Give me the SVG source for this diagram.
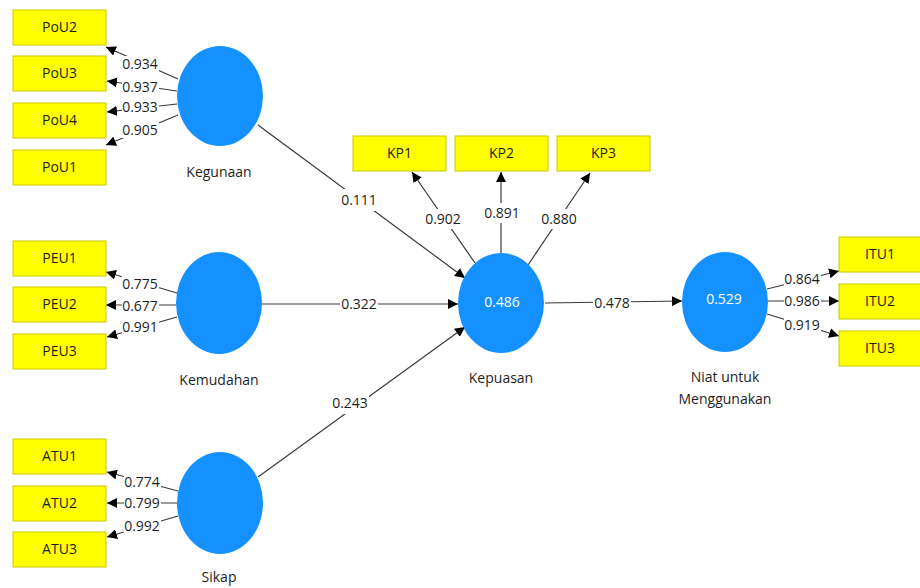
<svg xmlns="http://www.w3.org/2000/svg" width="920" height="588" viewBox="0 0 920 588">
<style>
.box{fill:#ffff00;stroke:#c9c900;stroke-width:1}
.lv{fill:#1591ff}
.t{font-family:"Open Sans","Noto Sans",sans-serif;font-size:14px;fill:#1e1e1e;text-anchor:middle}
.v{font-family:"Open Sans","Noto Sans",sans-serif;font-size:14px;fill:#ffffff;text-anchor:middle}
.ln{stroke:#3a3a3a;stroke-width:1.2;fill:none;marker-end:url(#ah)}
.bg{fill:#ffffff}
</style>
<defs>
<marker id="ah" markerUnits="userSpaceOnUse" markerWidth="10" markerHeight="10" viewBox="0 0 10 10" refX="10" refY="5" orient="auto">
<path d="M0,0 L10,5 L0,10 z" fill="#000"/>
</marker>
</defs>
<rect width="920" height="588" fill="#ffffff"/>
<g id="connectors">
<line class="ln" x1="178" y1="79" x2="106" y2="47"/>
<line class="ln" x1="177" y1="91" x2="107" y2="81"/>
<line class="ln" x1="177" y1="104" x2="107" y2="112"/>
<line class="ln" x1="178" y1="115" x2="106" y2="145"/>
<line class="ln" x1="177" y1="293" x2="106" y2="272"/>
<line class="ln" x1="176" y1="305" x2="106" y2="305"/>
<line class="ln" x1="177" y1="317" x2="107" y2="337"/>
<line class="ln" x1="178" y1="491" x2="107" y2="472"/>
<line class="ln" x1="177" y1="503" x2="107" y2="503"/>
<line class="ln" x1="178" y1="516" x2="107" y2="537"/>
<line class="ln" x1="475" y1="263" x2="412" y2="172"/>
<line class="ln" x1="501" y1="253" x2="501" y2="172"/>
<line class="ln" x1="528" y1="265" x2="590" y2="173"/>
<line class="ln" x1="767" y1="289" x2="839" y2="271"/>
<line class="ln" x1="768" y1="301" x2="839" y2="301"/>
<line class="ln" x1="767" y1="314" x2="839" y2="336"/>
<line class="ln" x1="258" y1="125" x2="465" y2="278"/>
<line class="ln" x1="262" y1="304" x2="458" y2="304"/>
<line class="ln" x1="258" y1="477" x2="465" y2="327"/>
<line class="ln" x1="545" y1="303" x2="682" y2="301"/>
<g id="labels">
<rect class="bg" x="122" y="56" width="37" height="16"/><text class="t" x="140" y="69">0.934</text>
<rect class="bg" x="122" y="79" width="37" height="16"/><text class="t" x="140" y="92">0.937</text>
<rect class="bg" x="122" y="99" width="37" height="16"/><text class="t" x="140" y="112">0.933</text>
<rect class="bg" x="122" y="122" width="37" height="16"/><text class="t" x="140" y="135">0.905</text>
<rect class="bg" x="122" y="276" width="37" height="16"/><text class="t" x="140" y="289">0.775</text>
<rect class="bg" x="122" y="298" width="37" height="16"/><text class="t" x="140" y="311">0.677</text>
<rect class="bg" x="122" y="319" width="37" height="16"/><text class="t" x="140" y="332">0.991</text>
<rect class="bg" x="124" y="474" width="37" height="16"/><text class="t" x="142" y="487">0.774</text>
<rect class="bg" x="124" y="495" width="37" height="16"/><text class="t" x="142" y="508">0.799</text>
<rect class="bg" x="124" y="518" width="37" height="16"/><text class="t" x="142" y="531">0.992</text>
<rect class="bg" x="424" y="209" width="38" height="20"/><text class="t" x="443" y="224">0.902</text>
<rect class="bg" x="483" y="203" width="38" height="20"/><text class="t" x="502" y="218">0.891</text>
<rect class="bg" x="540" y="209" width="38" height="20"/><text class="t" x="559" y="224">0.880</text>
<rect class="bg" x="784" y="271" width="37" height="16"/><text class="t" x="802" y="284">0.864</text>
<rect class="bg" x="784" y="293" width="37" height="16"/><text class="t" x="802" y="306">0.986</text>
<rect class="bg" x="784" y="317" width="37" height="16"/><text class="t" x="802" y="330">0.919</text>
<rect class="bg" x="340" y="189" width="38" height="22"/><text class="t" x="359" y="205">0.111</text>
<rect class="bg" x="340" y="296" width="38" height="16"/><text class="t" x="359" y="309">0.322</text>
<rect class="bg" x="331" y="392" width="38" height="22"/><text class="t" x="350" y="408">0.243</text>
<rect class="bg" x="593" y="295" width="38" height="16"/><text class="t" x="612" y="308">0.478</text>
</g>
</g>
<g id="PoU2"><rect class="box" x="13" y="10" width="93" height="35"/><text class="t" x="59.5" y="32">PoU2</text></g>
<g id="PoU3"><rect class="box" x="13" y="56" width="93" height="35"/><text class="t" x="59.5" y="78">PoU3</text></g>
<g id="PoU4"><rect class="box" x="13" y="103" width="93" height="35"/><text class="t" x="59.5" y="125">PoU4</text></g>
<g id="PoU1"><rect class="box" x="13" y="150" width="93" height="35"/><text class="t" x="59.5" y="172">PoU1</text></g>
<g id="PEU1"><rect class="box" x="13" y="241" width="93" height="35"/><text class="t" x="59.5" y="263">PEU1</text></g>
<g id="PEU2"><rect class="box" x="13" y="287" width="93" height="35"/><text class="t" x="59.5" y="309">PEU2</text></g>
<g id="PEU3"><rect class="box" x="13" y="334" width="93" height="35"/><text class="t" x="59.5" y="356">PEU3</text></g>
<g id="ATU1"><rect class="box" x="13" y="439" width="93" height="35"/><text class="t" x="59.5" y="461">ATU1</text></g>
<g id="ATU2"><rect class="box" x="13" y="486" width="93" height="35"/><text class="t" x="59.5" y="508">ATU2</text></g>
<g id="ATU3"><rect class="box" x="13" y="532" width="93" height="35"/><text class="t" x="59.5" y="554">ATU3</text></g>
<g id="KP1"><rect class="box" x="353" y="136" width="93" height="35"/><text class="t" x="399.5" y="158">KP1</text></g>
<g id="KP2"><rect class="box" x="455" y="136" width="93" height="35"/><text class="t" x="501.5" y="158">KP2</text></g>
<g id="KP3"><rect class="box" x="557" y="136" width="93" height="35"/><text class="t" x="603.5" y="158">KP3</text></g>
<g id="ITU1"><rect class="box" x="839" y="237" width="93" height="35"/><text class="t" x="880" y="259">ITU1</text></g>
<g id="ITU2"><rect class="box" x="839" y="284" width="93" height="35"/><text class="t" x="880" y="306">ITU2</text></g>
<g id="ITU3"><rect class="box" x="839" y="331" width="93" height="35"/><text class="t" x="880" y="353">ITU3</text></g>
<g id="Kegunaan"><ellipse class="lv" cx="220" cy="96" rx="43" ry="50"/><text class="t" x="219" y="177">Kegunaan</text></g>
<g id="Kemudahan"><ellipse class="lv" cx="219" cy="303" rx="43" ry="51"/><text class="t" x="219" y="385">Kemudahan</text></g>
<g id="Sikap"><ellipse class="lv" cx="220" cy="503" rx="43" ry="51"/><text class="t" x="219" y="582">Sikap</text></g>
<g id="Kepuasan"><ellipse class="lv" cx="501" cy="303" rx="43" ry="50"/><text class="v" x="502" y="307">0.486</text><text class="t" x="501" y="383">Kepuasan</text></g>
<g id="Niat"><ellipse class="lv" cx="725" cy="302" rx="43" ry="50"/><text class="v" x="724" y="304">0.529</text><text class="t" x="725" y="382">Niat untuk</text><text class="t" x="725" y="404">Menggunakan</text></g>
</svg>
